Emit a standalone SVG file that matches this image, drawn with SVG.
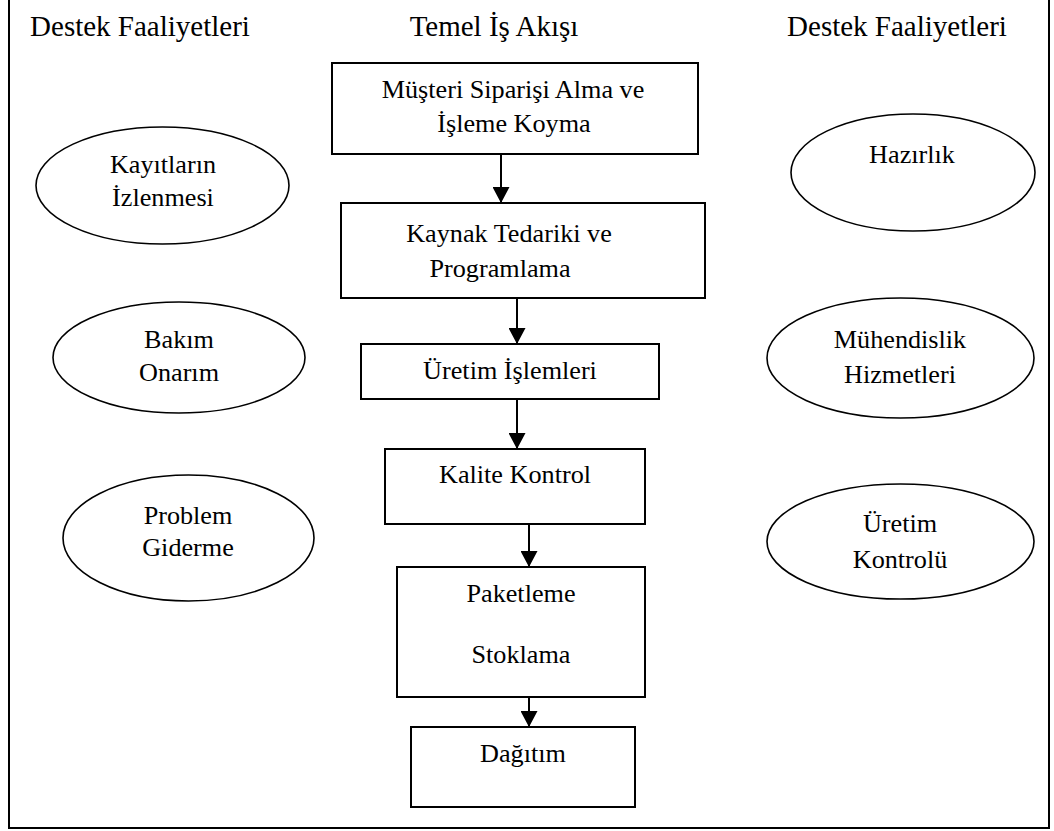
<svg xmlns="http://www.w3.org/2000/svg" width="1054" height="831" viewBox="0 0 1054 831">
  <style>
    .head { font-family: "Liberation Serif", "Times New Roman", serif; font-size: 29px; fill: #000; text-anchor: middle; }
    .lbl { font-family: "Liberation Serif", "Times New Roman", serif; font-size: 26.2px; fill: #000; text-anchor: middle; }
    .box { fill: #fff; stroke: #000; stroke-width: 2; }
    .ell { fill: #fff; stroke: #000; stroke-width: 1.6; }
    .frame { fill: none; stroke: #000; stroke-width: 2; }
    .conn { stroke: #000; stroke-width: 2; fill: none; marker-end: url(#arrow); }
  </style>
  <defs>
    <marker id="arrow" viewBox="0 0 16 17" refX="16" refY="8.5" markerWidth="16" markerHeight="17" markerUnits="userSpaceOnUse" orient="auto">
      <path d="M0,0 L16,8.5 L0,17 Z" fill="#000"/>
    </marker>
  </defs>

  <rect width="1054" height="831" fill="#fff"/>

  <!-- outer frame (top edge lies above the canvas) -->
  <path class="frame" d="M9,-2 V828 H1049 V-2"/>

  <!-- column headings -->
  <g id="headings">
    <text class="head" x="140" y="36">Destek Faaliyetleri</text>
    <text class="head" x="494" y="36">Temel İş Akışı</text>
    <text class="head" x="897" y="36">Destek Faaliyetleri</text>
  </g>

  <!-- main flow -->
  <g id="siparis">
    <rect class="box" x="332" y="63" width="366" height="91"/>
    <text class="lbl" x="513" y="98">Müşteri Siparişi Alma ve</text>
    <text class="lbl" x="514" y="132">İşleme Koyma</text>
  </g>
  <g id="kaynak">
    <rect class="box" x="341" y="203" width="364" height="95"/>
    <text class="lbl" x="509" y="242">Kaynak Tedariki ve</text>
    <text class="lbl" x="500" y="277">Programlama</text>
  </g>
  <g id="uretim">
    <rect class="box" x="361" y="344" width="298" height="55"/>
    <text class="lbl" x="510" y="379">Üretim İşlemleri</text>
  </g>
  <g id="kalite">
    <rect class="box" x="385" y="449" width="260" height="75"/>
    <text class="lbl" x="515" y="483">Kalite Kontrol</text>
  </g>
  <g id="paketleme">
    <rect class="box" x="397" y="567" width="248" height="130"/>
    <text class="lbl" x="521" y="602">Paketleme</text>
    <text class="lbl" x="521" y="663">Stoklama</text>
  </g>
  <g id="dagitim">
    <rect class="box" x="411" y="727" width="224" height="80"/>
    <text class="lbl" x="523" y="762">Dağıtım</text>
  </g>

  <!-- left support activities -->
  <g id="kayitlar">
    <ellipse class="ell" cx="162.5" cy="185.5" rx="126.5" ry="58.5"/>
    <text class="lbl" x="163" y="173">Kayıtların</text>
    <text class="lbl" x="163" y="206">İzlenmesi</text>
  </g>
  <g id="bakim">
    <ellipse class="ell" cx="179" cy="357.5" rx="126" ry="55.5"/>
    <text class="lbl" x="179" y="348">Bakım</text>
    <text class="lbl" x="179" y="381">Onarım</text>
  </g>
  <g id="problem">
    <ellipse class="ell" cx="188.5" cy="538" rx="125.5" ry="63"/>
    <text class="lbl" x="188" y="524">Problem</text>
    <text class="lbl" x="188" y="556">Giderme</text>
  </g>

  <!-- right support activities -->
  <g id="hazirlik">
    <ellipse class="ell" cx="913" cy="172.5" rx="122" ry="58.5"/>
    <text class="lbl" x="912" y="163">Hazırlık</text>
  </g>
  <g id="muhendislik">
    <ellipse class="ell" cx="900.5" cy="358" rx="133.5" ry="60"/>
    <text class="lbl" x="900" y="348">Mühendislik</text>
    <text class="lbl" x="900" y="383">Hizmetleri</text>
  </g>
  <g id="uretim-kontrolu">
    <ellipse class="ell" cx="900.5" cy="541.5" rx="133.5" ry="57.5"/>
    <text class="lbl" x="900" y="532">Üretim</text>
    <text class="lbl" x="900" y="568">Kontrolü</text>
  </g>

  <!-- connectors -->
  <g id="connectors">
    <line class="conn" x1="501" y1="154" x2="501" y2="203"/>
    <line class="conn" x1="517" y1="298" x2="517" y2="344"/>
    <line class="conn" x1="517" y1="399" x2="517" y2="449"/>
    <line class="conn" x1="529" y1="524" x2="529" y2="567"/>
    <line class="conn" x1="529" y1="697" x2="529" y2="727"/>
  </g>
</svg>
